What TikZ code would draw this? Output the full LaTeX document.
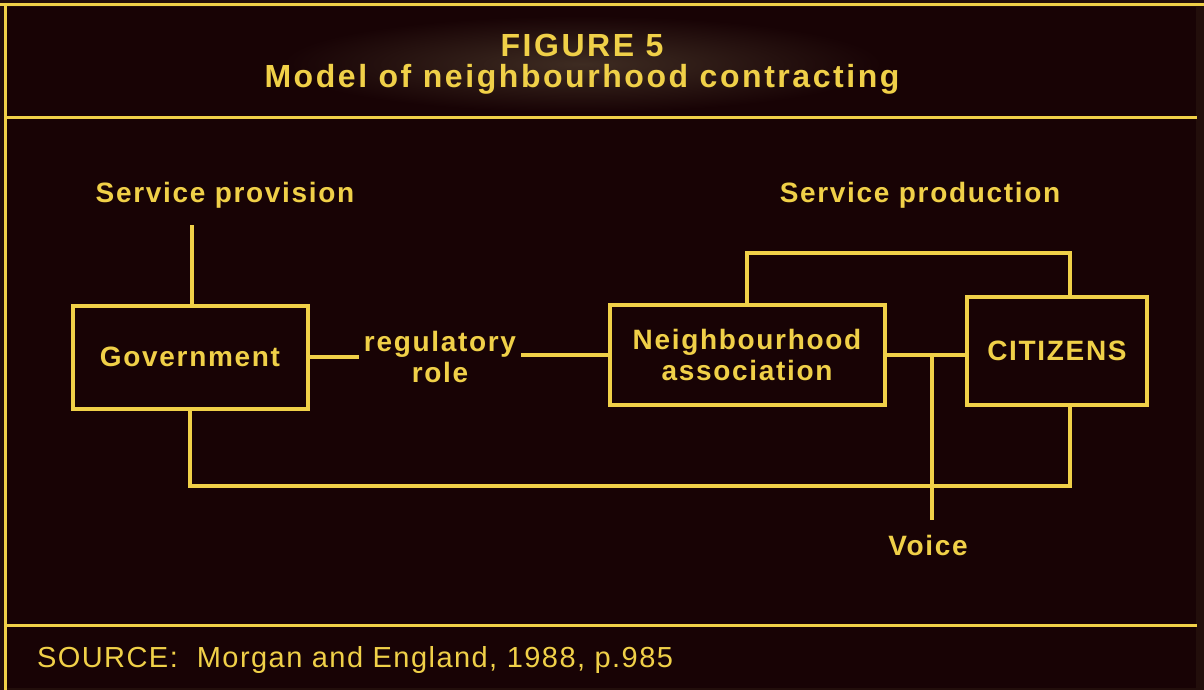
\documentclass[tikz,border=0pt]{standalone}
\usepackage{fontspec}
\setmainfont{Liberation Sans}
\usepackage{tikz}
\usetikzlibrary{positioning}
\usepackage{xcolor}
\definecolor{bgdark}{RGB}{24,3,5}
\definecolor{bgband}{RGB}{34,14,11}
\definecolor{bgglow}{RGB}{62,44,34}
\definecolor{gold}{RGB}{240,208,72}

\begin{document}
\begin{tikzpicture}[x=1pt, y=-1pt, line width=4pt, draw=gold, text=gold,
    font=\fontsize{28}{31}\selectfont\bfseries\addfontfeature{LetterSpace=6},
    box/.style={draw=gold, line width=4pt, align=center, inner sep=2pt},
    lbl/.style={align=center, inner sep=3pt}]
          % background and frame
          \useasboundingbox (0,0) rectangle (1204,690);
          \fill[bgband] (0,0) rectangle (1204,690);
          \fill[bgdark] (7,7) rectangle (1196,688);
          \shade[inner color=bgglow, outer color=bgdark] (582,64) ellipse (300 and 48);
          \draw[gold, line width=3pt] (0,5) -- (1204,5);
          \draw[gold, line width=3pt] (5,5) -- (5,690);
          \draw[gold, line width=3pt] (5,118) -- (1197,118);
          \draw[gold, line width=3pt] (5,625) -- (1197,625);
          % title and source
          \node[lbl, font=\fontsize{32}{31}\selectfont\bfseries\addfontfeature{LetterSpace=8}]
                (title) at (582,64) {FIGURE 5\\Model of neighbourhood contracting};
          \node[anchor=west, inner sep=0pt,
                font=\fontsize{29}{31}\selectfont\addfontfeature{LetterSpace=5}]
                (src) at (35,660) {SOURCE:\ \ Morgan and England, 1988, p.985};
          % boxes
          \node[box, minimum width=235pt, minimum height=103pt] (gov) at (190,357) {Government};
          \node[box, minimum width=275pt, minimum height=100pt] (nbh) at (747,355) {Neighbourhood\\association};
          \node[box, minimum width=180pt, minimum height=108pt] (cit) at (1057,351) {CITIZENS};
          % labels
          \node[lbl] (provlbl) at (225,195) {Service provision};
          \node[lbl] (prodlbl) at (920,195) {Service production};
          \node[lbl] (reglbl) at (440,357) {regulatory\\role};
          \node[lbl] (voicelbl) at (928,545) {Voice};
          \coordinate (provtop) at (192,225);
          \coordinate (vj) at (932,355);
          % connectors
          \draw (provtop) -- (provtop |- gov.north);
          \draw (gov.east) -- (reglbl.west |- gov.east);
          \draw (reglbl.east |- nbh.west) -- (nbh.west);
          \draw (nbh.east) -- (cit.west |- nbh.east);
          \draw (vj) -- ++(0,165);
          \draw (nbh.north) -- ++(0,-50) -| ([xshift=13pt]cit.north);
          \draw (gov.south) -- ++(0,75) -| ([xshift=13pt]cit.south);
        \end{tikzpicture}
\end{document}
